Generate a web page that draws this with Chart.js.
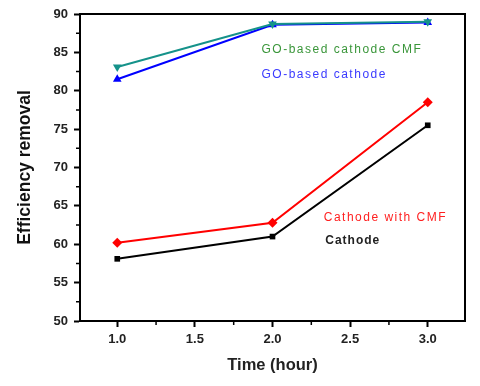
<!DOCTYPE html>
<html>
<head>
<meta charset="utf-8">
<script src="https://cdn.jsdelivr.net/npm/chart.js@4.4.1/dist/chart.umd.min.js"></script>
<style>
  html, body { margin: 0; padding: 0; background: #fff; }
  #wrap { width: 480px; height: 386px; }
</style>
</head>
<body>
<div id="wrap"><canvas id="chart"></canvas></div>
<script>
const hours = [1.0, 2.0, 3.0];
const cathode = [58.1, 61.0, 75.5];
const cathode_cmf = [60.2, 62.8, 78.5];
const go_cathode = [81.5, 88.6, 88.9];
const go_cathode_cmf = [83.1, 88.7, 89.0];

const x_major = [1.0, 1.5, 2.0, 2.5, 3.0];
const x_minor = [1.25, 1.75, 2.25, 2.75];
const y_major = [50, 55, 60, 65, 70, 75, 80, 85, 90];
const y_minor = [52.5, 57.5, 62.5, 67.5, 72.5, 77.5, 82.5, 87.5];

const to_points = (values) => hours.map((h, i) => ({ x: h, y: values[i] }));

const make_set = (label, values, color, style, rotation, order) => ({
    label: label,
    data: to_points(values),
    borderColor: color,
    backgroundColor: color,
    borderWidth: 2,
    pointStyle: style,
    pointRotation: rotation,
    pointRadius: style === 'rect' ? 4 : 5,
    pointBorderWidth: 0,
    order: order
});

// draws the frame, minor ticks and the in-plot labels
const frame_plugin = {
    id: 'frame',
    afterDraw(chart) {
        const ctx = chart.ctx;
        const a = chart.chartArea;
        const xs = chart.scales.x;
        const ys = chart.scales.y;
        ctx.save();
        ctx.strokeStyle = '#000';
        ctx.lineWidth = 2;
        ctx.strokeRect(a.left, a.top, a.right - a.left, a.bottom - a.top);
        ctx.lineWidth = 1.5;
        ctx.beginPath();
        x_minor.forEach((v) => {
            const px = xs.getPixelForValue(v);
            ctx.moveTo(px, a.bottom);
            ctx.lineTo(px, a.bottom + 4);
        });
        y_minor.forEach((v) => {
            const py = ys.getPixelForValue(v);
            ctx.moveTo(a.left, py);
            ctx.lineTo(a.left - 4, py);
        });
        ctx.stroke();

        ctx.textBaseline = 'middle';
        ctx.letterSpacing = '1.5px';
        ctx.font = '12px "Liberation Sans", Arial, sans-serif';
        ctx.fillStyle = '#3a963a';
        ctx.fillText('GO-based cathode CMF', xs.getPixelForValue(2.0) - 11, ys.getPixelForValue(85.3));
        ctx.fillStyle = '#3a3aff';
        ctx.fillText('GO-based cathode', xs.getPixelForValue(2.0) - 11, ys.getPixelForValue(82.1));
        ctx.fillStyle = '#ff2020';
        ctx.fillText('Cathode with CMF', xs.getPixelForValue(2.33), ys.getPixelForValue(63.4));
        ctx.fillStyle = '#222';
        ctx.font = 'bold 12px "Liberation Sans", Arial, sans-serif';
        ctx.letterSpacing = '1px';
        ctx.fillText('Cathode', xs.getPixelForValue(2.34), ys.getPixelForValue(60.4));
        ctx.restore();
    }
};

const tick_font = { family: '"Liberation Sans", Arial, sans-serif', size: 13, weight: 'bold' };

const config = {
    type: 'line',
    data: {
        datasets: [
            make_set('Cathode', cathode, '#000000', 'rect', 0, 3),
            make_set('Cathode with CMF', cathode_cmf, '#ff0000', 'rectRot', 0, 2),
            make_set('GO-based cathode', go_cathode, '#0000ff', 'triangle', 0, 1),
            make_set('GO-based cathode CMF', go_cathode_cmf, '#15928a', 'triangle', 180, 0)
        ]
    },
    options: {
        responsive: true,
        maintainAspectRatio: false,
        animation: false,
        layout: { padding: { top: 14, right: 15, left: 0, bottom: 0 } },
        plugins: {
            legend: { display: false },
            tooltip: { enabled: false }
        },
        scales: {
            x: {
                type: 'linear',
                min: 0.76,
                max: 3.24,
                afterBuildTicks: (s) => { s.ticks = x_major.map((v) => ({ value: v })); },
                afterFit: (s) => { s.height = 65; },
                ticks: {
                    color: '#222',
                    font: tick_font,
                    padding: 5,
                    callback: (v) => v.toFixed(1)
                },
                grid: { drawOnChartArea: false, tickLength: 6, tickWidth: 2, tickColor: '#000' },
                border: { color: '#000', width: 2 },
                title: {
                    display: true,
                    text: 'Time (hour)',
                    color: '#222',
                    font: { family: '"Liberation Sans", Arial, sans-serif', size: 16.5, weight: 'bold' },
                    padding: { top: 0, bottom: 11 }
                }
            },
            y: {
                min: 50,
                max: 90,
                afterBuildTicks: (s) => { s.ticks = y_major.map((v) => ({ value: v })); },
                afterFit: (s) => { s.width = 80; },
                ticks: {
                    color: '#222',
                    font: tick_font,
                    padding: 6
                },
                grid: { drawOnChartArea: false, tickLength: 6, tickWidth: 2, tickColor: '#000' },
                border: { color: '#000', width: 2 },
                title: {
                    display: true,
                    text: 'Efficiency removal',
                    color: '#111',
                    font: { family: '"Liberation Sans", Arial, sans-serif', size: 17.5, weight: 'bold' },
                    padding: { top: 15, bottom: 0 }
                }
            }
        }
    },
    plugins: [frame_plugin]
};

var ctx_chart = document.getElementById("chart");
var chart = new Chart(ctx_chart, config);
</script>
</body>
</html>
